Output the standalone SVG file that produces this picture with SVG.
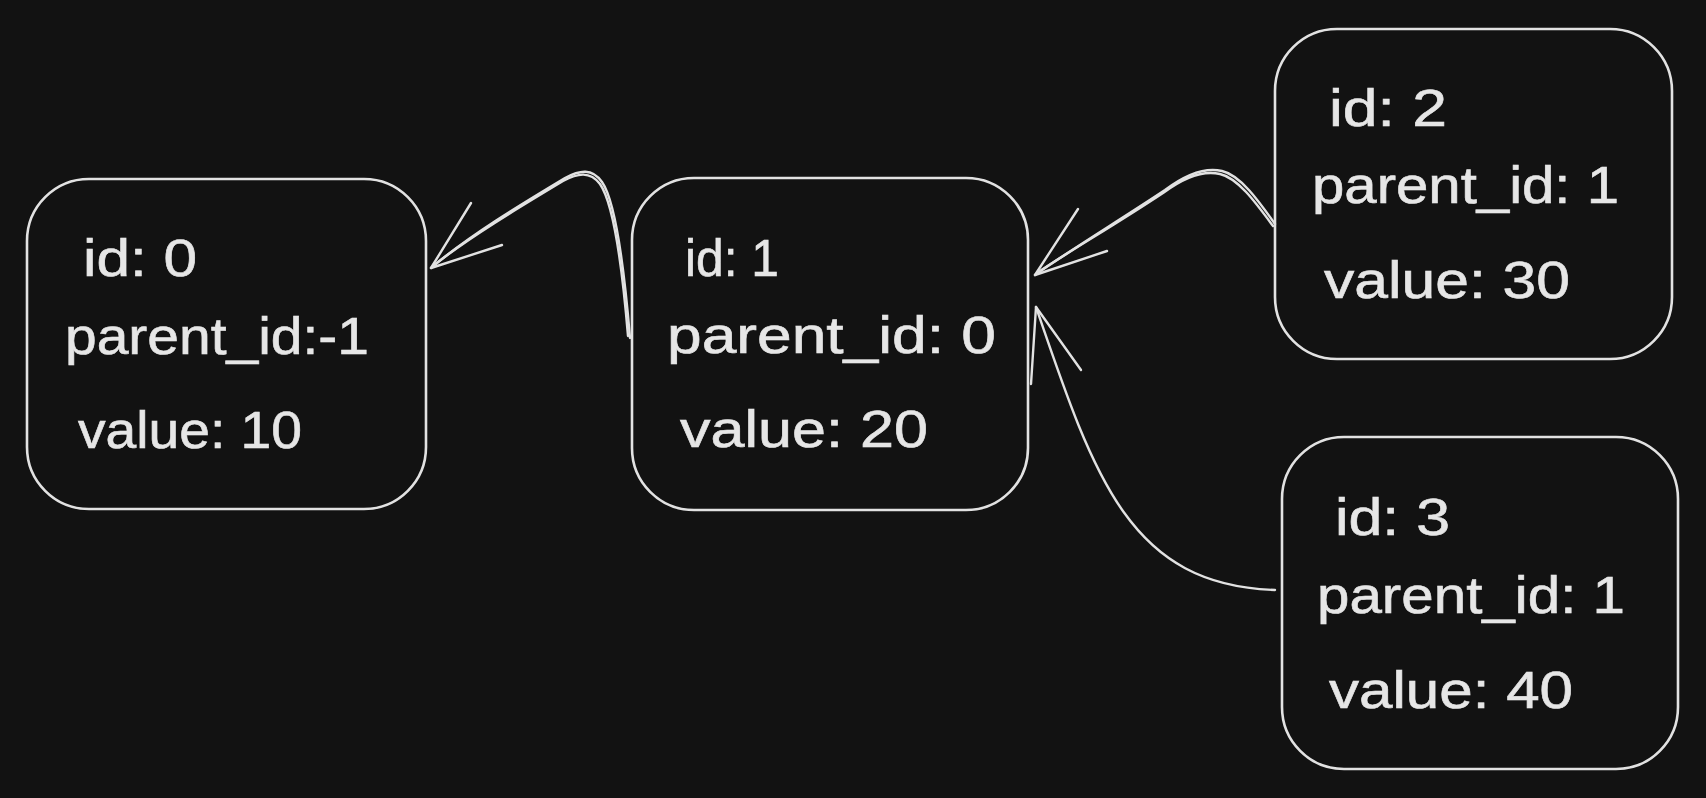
<svg xmlns="http://www.w3.org/2000/svg" width="1706" height="798" viewBox="0 0 1706 798">
<style>
.box{fill:#121212;stroke:#e2e2e2;stroke-width:2.6}
.t{font-family:"Liberation Sans",Arial,sans-serif;font-size:52px;fill:#e6e6e6;stroke:#e6e6e6;stroke-width:0.6}
.c{fill:none;stroke:#e2e2e2;stroke-width:2.4;stroke-linecap:round;stroke-linejoin:round}
</style>
<rect width="1706" height="798" fill="#121212"/>
<g id="node0">
<rect class="box" x="27" y="179" width="399" height="330" rx="62" ry="62"/>
<text class="t" x="83" y="276" textLength="114" lengthAdjust="spacingAndGlyphs">id: 0</text>
<text class="t" x="65" y="354" textLength="304" lengthAdjust="spacingAndGlyphs">parent_id:-1</text>
<text class="t" x="78" y="448" textLength="224" lengthAdjust="spacingAndGlyphs">value: 10</text>
</g>
<g id="node1">
<rect class="box" x="632" y="178" width="396" height="332" rx="62" ry="62"/>
<text class="t" x="685" y="276" textLength="94" lengthAdjust="spacingAndGlyphs">id: 1</text>
<text class="t" x="667" y="353" textLength="329" lengthAdjust="spacingAndGlyphs">parent_id: 0</text>
<text class="t" x="680" y="447" textLength="248" lengthAdjust="spacingAndGlyphs">value: 20</text>
</g>
<g id="node2">
<rect class="box" x="1275" y="29" width="397" height="330" rx="62" ry="62"/>
<text class="t" x="1329" y="126" textLength="118" lengthAdjust="spacingAndGlyphs">id: 2</text>
<text class="t" x="1312" y="203" textLength="307" lengthAdjust="spacingAndGlyphs">parent_id: 1</text>
<text class="t" x="1324" y="298" textLength="246" lengthAdjust="spacingAndGlyphs">value: 30</text>
</g>
<g id="node3">
<rect class="box" x="1282" y="437" width="396" height="332" rx="62" ry="62"/>
<text class="t" x="1335" y="535" textLength="115" lengthAdjust="spacingAndGlyphs">id: 3</text>
<text class="t" x="1317" y="613" textLength="308" lengthAdjust="spacingAndGlyphs">parent_id: 1</text>
<text class="t" x="1329" y="708" textLength="244" lengthAdjust="spacingAndGlyphs">value: 40</text>
</g>
<g id="connectors">
<path class="c" d="M 630 338 C 626 290, 618 205, 602 182 C 592 168, 580 170, 565 178 C 520 205, 470 235, 431 268"/>
<path class="c" d="M 628 336 C 624 288, 616 207, 600 184 C 590 171, 578 173, 563 181 C 518 208, 468 238, 433 266"/>
<path class="c" d="M 431 268 L 471 203 M 431 268 L 502 245"/>
<path class="c" d="M 1275 224 C 1258 200, 1240 175, 1222 171 C 1205 167, 1185 175, 1165 190 C 1120 220, 1070 250, 1035 275"/>
<path class="c" d="M 1273 226 C 1256 203, 1238 178, 1220 174 C 1203 170, 1183 178, 1163 193 C 1118 223, 1068 252, 1037 273"/>
<path class="c" d="M 1035 275 L 1078 209 M 1035 275 L 1107 251"/>
<path class="c" d="M 1275 590 C 1130 585, 1095 480, 1036 307"/>
<path class="c" d="M 1036 307 L 1081 370 M 1036 307 L 1031 384"/>
</g>
</svg>
